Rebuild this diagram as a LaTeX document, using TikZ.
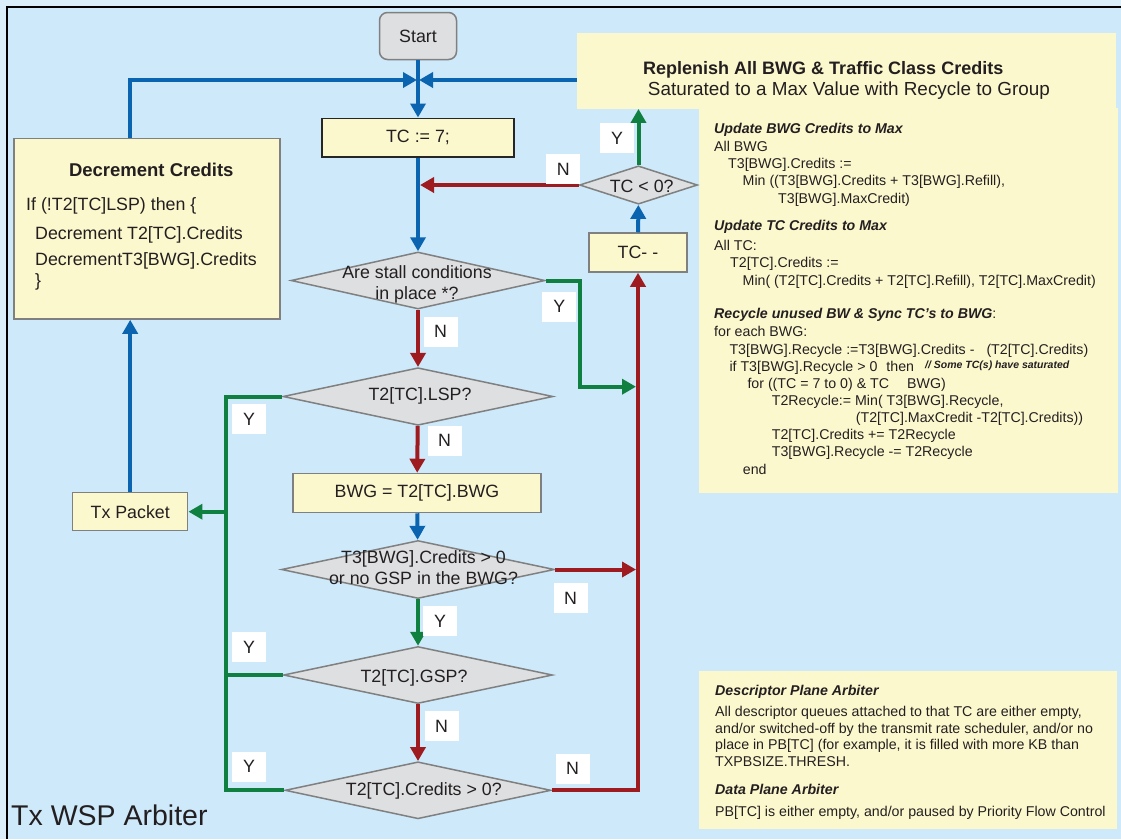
\documentclass[tikz,border=0pt]{standalone}
\usepackage{fontspec}
\setmainfont{Liberation Sans}
\usetikzlibrary{arrows.meta,shapes.geometric,positioning,calc}

\definecolor{bgout}{RGB}{218,238,250}
\definecolor{bgin}{RGB}{205,233,250}
\definecolor{boxyel}{RGB}{252,248,206}
\definecolor{decgray}{RGB}{222,223,225}
\definecolor{edgegray}{RGB}{128,128,128}
\definecolor{flowblue}{RGB}{10,100,176}
\definecolor{flowred}{RGB}{158,27,32}
\definecolor{flowgreen}{RGB}{16,128,64}
\definecolor{inktxt}{RGB}{35,31,32}

\newcommand{\flowfont}{\fontsize{17.8}{21}\selectfont}
\newcommand{\panelfont}{\fontsize{14.2}{17}\selectfont}

\tikzset{
  startbox/.style={rectangle, rounded corners=8pt, draw=edgegray, line width=1.5pt, fill=decgray, text=inktxt, font=\flowfont, inner sep=0pt},
  procbox/.style={rectangle, draw=edgegray, line width=1.5pt, fill=boxyel, text=inktxt, font=\flowfont, inner sep=0pt},
  decbox/.style={diamond, draw=edgegray, line width=1.5pt, fill=decgray, inner sep=0pt},
  dectxt/.style={align=center, font=\flowfont, text=inktxt, inner sep=0pt},
  ynbox/.style={rectangle, fill=white, inner sep=0pt, minimum width=34, minimum height=30, font=\flowfont, text=inktxt},
  panel/.style={rectangle, fill=boxyel, inner sep=0pt, anchor=north west},
  ptxt/.style={anchor=base west, inner sep=0pt, font=\panelfont, text=inktxt},
  flowln/.style={line width=4pt},
  tip/.style={-{Triangle[length=14pt,width=15pt]}},
  bluearr/.style={flowln, draw=flowblue, tip},
  redarr/.style={flowln, draw=flowred, tip},
  greenarr/.style={flowln, draw=flowgreen, tip},
  redln/.style={flowln, draw=flowred},
  greenln/.style={flowln, draw=flowgreen}
}

\begin{document}
\begin{tikzpicture}[x=1pt, y=-1pt]
  \useasboundingbox (0,0) rectangle (1121,839);
  \fill[bgout] (0,0) rectangle (1121,839);
  \fill[bgin] (7,7) rectangle (1121,839);
  \draw[black, line width=1.4pt] (7,839) -- (7,7) -- (1121,7);

  % side panels
  \node[panel, minimum width=539, minimum height=75.5] (replen) at (577,33) {};
  \node[panel, minimum width=419, minimum height=385.5] (upd) at (699,107.5) {};
  \node[panel, minimum width=418, minimum height=158] (dpa) at (699,671) {};

  % main column
  \node[startbox, minimum width=77, minimum height=47] (start) at (418,36) {Start};
  \coordinate (jn) at (418,80);
  \node[procbox, draw=black!85, minimum width=192, minimum height=38.5] (tc7) at (418,137.5) {TC := 7;};
  \node[decbox, minimum width=254, minimum height=57] (stall) at (418,280.5) {};
  \node[decbox, minimum width=270, minimum height=57.6] (lsp) at (418,396.5) {};
  \node[procbox, minimum width=248, minimum height=39] (bwg) at (417,493) {BWG = T2[TC].BWG};
  \node[decbox, minimum width=273, minimum height=58] (t3) at (418,569.5) {};
  \node[decbox, minimum width=269, minimum height=57] (gsp) at (418,675) {};
  \node[decbox, minimum width=266, minimum height=57] (cred) at (418,790.3) {};

  % right column
  \node[decbox, minimum width=118, minimum height=38.3] (tclt) at (638.5,185) {};
  \node[procbox, minimum width=98, minimum height=39] (tcdec) at (638,252.5) {TC- -};

  % left column
  \node[procbox, minimum width=266, minimum height=180.6, anchor=north west] (deccred) at (13.3,137.7) {};
  \node[procbox, minimum width=115, minimum height=38] (txpkt) at (130.2,511.7) {Tx Packet};

  % connectors
  \draw[bluearr] (start) -- (tc7);
  \draw[bluearr, shorten >=1pt] (deccred.north -| txpkt.north) |- (jn);
  \draw[bluearr, shorten >=1pt] (replen.west |- jn) -- (jn);
  \draw[bluearr] (tc7) -- (stall);
  \draw[redarr, shorten >=2pt] (tclt.west) -- (tclt.west -| tc7.south);
  \draw[redarr] (stall) -- (lsp);
  \draw[redarr] (lsp) -- (bwg);
  \draw[bluearr] (bwg) -- (t3);
  \draw[greenarr] (t3) -- (gsp);
  \draw[redarr] (gsp) -- (cred);

  \coordinate (rbus) at (638,790.3);
  \coordinate (gmid) at (580,386.7);
  \draw[redarr] (cred.east) -- (rbus) -- (tcdec.south);
  \draw[redarr, shorten >=2pt] (t3.east) -- (t3.east -| rbus);
  \draw[greenarr, shorten >=2pt] (stall.east) -| (gmid) -- (gmid -| rbus);
  \draw[bluearr] (tcdec) -- (tclt);
  \draw[greenarr] (tclt) -- (tclt |- replen.south);

  \coordinate (gtop) at (226,396.5);
  \coordinate (gbot) at (226,790.3);
  \draw[greenln] (lsp.west) -- (gtop) -- (gbot) -- (cred.west);
  \draw[greenln] (gsp.west) -- (gsp.west -| gtop);
  \draw[greenarr] (txpkt.east -| gtop) -- (txpkt.east);
  \draw[bluearr] (txpkt) -- (txpkt |- deccred.south);

  % decision texts
  \node[dectxt] (stall-t) at (417,284.5) {Are stall conditions\\in place *?};
  \node[dectxt] (lsp-t) at (420,395.8) {T2[TC].LSP?};
  \node[dectxt] (t3-t) at (423.5,568) {T3[BWG].Credits > 0\\or no GSP in the BWG?};
  \node[dectxt] (gsp-t) at (414,677.8) {T2[TC].GSP?};
  \node[dectxt] (cred-t) at (423.8,791) {T2[TC].Credits > 0?};
  \node[dectxt] (tclt-t) at (641.7,186.8) {TC < 0?};

  % Y / N marks
  \foreach \lx/\ly/\lt [count=\k] in {563.4/169/N, 617/138/Y, 559.3/306.5/Y,
      440.5/331.5/N, 444.5/440.5/N, 249/419/Y, 570.5/598/N, 440/621.3/Y,
      249/647.3/Y, 441.5/726.3/N, 249/766.5/Y, 572.5/768.5/N}
    \node[ynbox, name=yn\k] at (\lx,\ly) {\lt};

  % decrement credits text
  \node[dectxt, font=\fontsize{18.5}{21}\selectfont\bfseries] (deccred-t) at (151.3,169.5) {Decrement Credits};
  \foreach \px/\py/\lt [count=\i] in {26/210.5/{If (!T2[TC]LSP) then \{},
      35/239.2/{Decrement T2[TC].Credits}, 35/265.2/{DecrementT3[BWG].Credits},
      35/286.5/{\}}}
    \node[ptxt, font=\flowfont, name=dc\i] at (\px,\py) {\lt};

  % replenish panel text
  \node[ptxt, font=\fontsize{18}{21}\selectfont\bfseries] (replen-t1) at (643,74.7) {Replenish All BWG \& Traffic Class Credits};
  \node[ptxt, font=\fontsize{18.9}{21}\selectfont] (replen-t2) at (647.7,95) {Saturated to a Max Value with Recycle to Group};
  \foreach \px/\py/\lt [count=\i] in {
      714/133.3/{\bfseries\itshape Update BWG Credits to Max},
      714/151/{All BWG},
      728/168.3/{T3[BWG].Credits :=},
      742.5/185.7/{Min ((T3[BWG].Credits + T3[BWG].Refill),},
      778/203.3/{T3[BWG].MaxCredit)},
      714/230/{\bfseries\itshape Update TC Credits to Max},
      714/250.3/{All TC:},
      730/267.3/{T2[TC].Credits :=},
      742.5/285/{Min( (T2[TC].Credits + T2[TC].Refill), T2[TC].MaxCredit)},
      714/318.3/{{\bfseries\itshape Recycle unused BW \& Sync TC’s to BWG}:},
      714/336.7/{for each BWG:},
      729.3/354/{T3[BWG].Recycle :=T3[BWG].Credits -\hspace{12pt}(T2[TC].Credits)},
      729.3/371/{if T3[BWG].Recycle > 0\hspace{9pt}then},
      747.3/388.3/{for ((TC = 7 to 0) \& TC\hspace{18pt}BWG)},
      771.7/405/{T2Recycle:= Min( T3[BWG].Recycle,},
      855.7/422.3/{(T2[TC].MaxCredit -T2[TC].Credits))},
      771.7/439.3/{T2[TC].Credits += T2Recycle},
      771.7/456.7/{T3[BWG].Recycle -= T2Recycle},
      742.7/474.3/{end}}
    \node[ptxt, name=up\i] at (\px,\py) {\lt};
  \node[ptxt, font=\fontsize{10.5}{12}\selectfont\bfseries\itshape] (upnote) at (925,368) {// Some TC(s) have saturated};

  % arbiter notes
  \foreach \px/\py/\lt [count=\i] in {
      715/695.7/{\bfseries\itshape Descriptor Plane Arbiter},
      715/716.7/{All descriptor queues attached to that TC are either empty,},
      715/733.3/{and/or switched-off by the transmit rate scheduler, and/or no},
      715/749.3/{place in PB[TC] (for example, it is filled with more KB than},
      715/766/{TXPBSIZE.THRESH.},
      715/794/{\bfseries\itshape Data Plane Arbiter},
      715/816.7/{PB[TC] is either empty, and/or paused by Priority Flow Control}}
    \node[ptxt, name=dp\i] at (\px,\py) {\lt};

  \node[ptxt, font=\fontsize{28.5}{30}\selectfont] (arbname) at (11,825) {Tx WSP Arbiter};
\end{tikzpicture}
\end{document}
